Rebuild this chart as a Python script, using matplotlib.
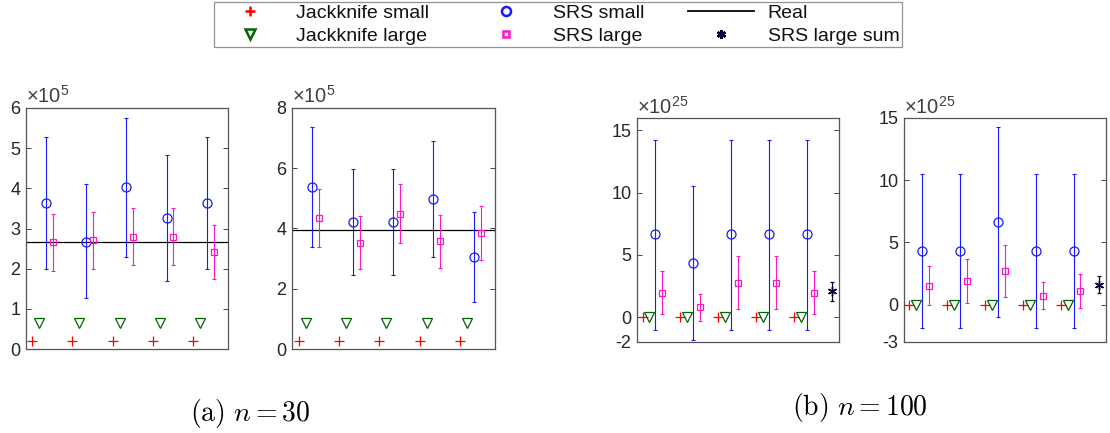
import matplotlib
matplotlib.use("Agg")
import matplotlib.pyplot as plt
import numpy as np

plt.rcParams['font.family'] = ['Liberation Sans', 'DejaVu Sans']
plt.rcParams['mathtext.fontset'] = 'custom'
plt.rcParams['mathtext.rm'] = 'Liberation Sans'
plt.rcParams['mathtext.it'] = 'Liberation Sans:italic'

# ---------------- data (values in units of the axis multiplier) ----------------
groups = [1, 2, 3, 4, 5]

# (a) n = 30, left panel (x 1e5)
a1_jk_small = [0.19, 0.19, 0.19, 0.19, 0.19]
a1_jk_large = [0.65, 0.65, 0.65, 0.65, 0.65]
a1_srs_small = [3.63, 2.67, 4.03, 3.25, 3.63]
a1_srs_small_lo = [1.99, 1.26, 2.29, 1.70, 1.99]
a1_srs_small_hi = [5.28, 4.10, 5.76, 4.82, 5.28]
a1_srs_large = [2.66, 2.71, 2.80, 2.80, 2.42]
a1_srs_large_lo = [1.95, 1.99, 2.09, 2.09, 1.75]
a1_srs_large_hi = [3.35, 3.40, 3.51, 3.51, 3.08]
a1_real = 2.66

# (a) n = 30, right panel (x 1e5)
a2_jk_small = [0.26, 0.26, 0.26, 0.26, 0.26]
a2_jk_large = [0.86, 0.86, 0.86, 0.86, 0.86]
a2_srs_small = [5.38, 4.22, 4.22, 4.99, 3.05]
a2_srs_small_lo = [3.38, 2.44, 2.44, 3.06, 1.56]
a2_srs_small_hi = [7.36, 5.99, 5.99, 6.92, 4.56]
a2_srs_large = [4.35, 3.52, 4.49, 3.59, 3.85]
a2_srs_large_lo = [3.38, 2.65, 3.53, 2.70, 2.95]
a2_srs_large_hi = [5.31, 4.40, 5.49, 4.45, 4.76]
a2_real = 3.94

# (b) n = 100, left panel (x 1e25)
b1_jk_small = [0.0, 0.0, 0.0, 0.0, 0.0]
b1_jk_large = [0.0, 0.0, 0.0, 0.0, 0.0]
b1_srs_small = [6.65, 4.36, 6.65, 6.65, 6.65]
b1_srs_small_lo = [-1.0, -1.86, -1.0, -1.0, -1.0]
b1_srs_small_hi = [14.2, 10.53, 14.27, 14.27, 14.27]
b1_srs_large = [1.97, 0.78, 2.77, 2.77, 1.97]
b1_srs_large_lo = [0.24, -0.35, 0.67, 0.67, 0.24]
b1_srs_large_hi = [3.72, 1.89, 4.90, 4.90, 3.72]
b1_sum = 2.07
b1_sum_lo = 1.27
b1_sum_hi = 2.85

# (b) n = 100, right panel (x 1e25)
b2_jk_small = [0.0, 0.0, 0.0, 0.0, 0.0]
b2_jk_large = [0.0, 0.0, 0.0, 0.0, 0.0]
b2_srs_small = [4.34, 4.34, 6.61, 4.34, 4.34]
b2_srs_small_lo = [-1.89, -1.89, -1.03, -1.89, -1.89]
b2_srs_small_hi = [10.52, 10.52, 14.27, 10.52, 10.52]
b2_srs_large = [1.51, 1.92, 2.70, 0.73, 1.11]
b2_srs_large_lo = [0.0, 0.16, 0.62, -0.35, -0.24]
b2_srs_large_hi = [3.08, 3.67, 4.83, 1.81, 2.45]
b2_sum = 1.62
b2_sum_lo = 0.94
b2_sum_hi = 2.29

labels = ["Jackknife small", "Jackknife large", "SRS small", "SRS large", "Real", "SRS large sum"]

# ---------------- styling ----------------
C_RED = '#ff0000'
C_GREEN = '#006400'
C_BLUE = '#1a1aff'
C_PINK = '#ff14c8'
C_STAR = '#000033'
C_AX = '#262626'
OFF = [-0.255, -0.085, 0.085, 0.255]

W, H = 1110, 433
fig = plt.figure(figsize=(W / 100, H / 100), dpi=100)

def add_ax(l, r, t, b):
    return fig.add_axes([l / W, (H - b) / H, (r - l) / W, (b - t) / H])

def panel(ax, jk_s, jk_l, ss, ss_lo, ss_hi, sl, sl_lo, sl_hi, ylim, yticks, exp,
          xlim, real=None, sm=None):
    g = np.array(groups, dtype=float)
    ss = np.array(ss); sl = np.array(sl)
    h = {}
    ax.errorbar(g + OFF[2], ss, yerr=[ss - np.array(ss_lo), np.array(ss_hi) - ss],
                fmt='none', ecolor=C_BLUE, elinewidth=0.8, capsize=1.3, capthick=0.8, zorder=2)
    ax.errorbar(g + OFF[3], sl, yerr=[sl - np.array(sl_lo), np.array(sl_hi) - sl],
                fmt='none', ecolor=C_PINK, elinewidth=0.8, capsize=1.3, capthick=0.8, zorder=2)
    if real is not None:
        h['Real'], = ax.plot(xlim, [real, real], color='black', lw=0.9, zorder=1)
    h['Jackknife small'], = ax.plot(g + OFF[0], jk_s, ls='none', marker='+', ms=6.8, mew=0.9,
                                    color=C_RED, zorder=3)
    h['Jackknife large'], = ax.plot(g + OFF[1], jk_l, ls='none', marker='v', ms=7, mew=0.9,
                                    mfc='none', mec=C_GREEN, zorder=3)
    h['SRS small'], = ax.plot(g + OFF[2], ss, ls='none', marker='o', ms=6.5, mew=0.9,
                              mfc='none', mec=C_BLUE, zorder=3)
    h['SRS large'], = ax.plot(g + OFF[3], sl, ls='none', marker='s', ms=5, mew=0.9,
                              mfc='none', mec=C_PINK, zorder=3)
    if sm is not None:
        sx = g[-1] + 1 + OFF[0]
        v, lo, hi = sm
        ax.errorbar([sx], [v], yerr=[[v - lo], [hi - v]], fmt='none', ecolor=C_STAR,
                    elinewidth=0.9, capsize=1.5, capthick=0.9, zorder=2)
        h['SRS large sum'], = ax.plot([sx], [v], ls='none', marker=(6, 2, 0), ms=6.5, mew=1.0,
                                      color=C_STAR, zorder=3)
    ax.set_xlim(xlim)
    ax.set_ylim(ylim)
    ax.set_xticks([])
    ax.set_yticks(yticks)
    ax.set_yticklabels([str(t) for t in yticks])
    ax.tick_params(axis='y', direction='in', left=True, right=True, length=3.5, width=0.6,
                   colors=C_AX, labelsize=13, pad=4)
    for s in ax.spines.values():
        s.set_color('#555555')
        s.set_linewidth(0.9)
    ax.text(0.0, 1.02, r'$\times\mathrm{10}^{%d}$' % exp, transform=ax.transAxes,
            fontsize=14.5, color='#404040', ha='left', va='baseline')
    return h

ax1 = add_ax(26, 228, 108, 349)
h1 = panel(ax1, a1_jk_small, a1_jk_large, a1_srs_small, a1_srs_small_lo, a1_srs_small_hi,
           a1_srs_large, a1_srs_large_lo, a1_srs_large_hi, (0, 6), [0, 1, 2, 3, 4, 5, 6], 5,
           (0.59, 5.61), real=a1_real)
ax2 = add_ax(292, 495, 108, 349)
h2 = panel(ax2, a2_jk_small, a2_jk_large, a2_srs_small, a2_srs_small_lo, a2_srs_small_hi,
           a2_srs_large, a2_srs_large_lo, a2_srs_large_hi, (0, 8), [0, 2, 4, 6, 8], 5,
           (0.58, 5.61), real=a2_real)
ax3 = add_ax(637, 839, 118, 342)
h3 = panel(ax3, b1_jk_small, b1_jk_large, b1_srs_small, b1_srs_small_lo, b1_srs_small_hi,
           b1_srs_large, b1_srs_large_lo, b1_srs_large_hi, (-2, 16), [-2, 0, 5, 10, 15], 25,
           (0.60, 5.92), sm=(b1_sum, b1_sum_lo, b1_sum_hi))
ax4 = add_ax(904, 1106, 118, 342)
h4 = panel(ax4, b2_jk_small, b2_jk_large, b2_srs_small, b2_srs_small_lo, b2_srs_small_hi,
           b2_srs_large, b2_srs_large_lo, b2_srs_large_hi, (-3, 15), [-3, 0, 5, 10, 15], 25,
           (0.60, 5.93), sm=(b2_sum, b2_sum_lo, b2_sum_hi))

allh = {}
allh.update(h1); allh.update(h3)
order = ["Jackknife small", "Jackknife large", "SRS small", "SRS large", "Real", "SRS large sum"]
leg = fig.legend([allh[k] for k in order], order, ncol=3, loc='upper center',
                 bbox_to_anchor=(558 / W, 1 - 2 / H), fontsize=14, frameon=True,
                 fancybox=False, edgecolor='#777777', handlelength=3.4, handletextpad=0.7,
                 columnspacing=2.25, labelspacing=0.28, borderpad=0.12, borderaxespad=0,
                 numpoints=1)
leg.get_frame().set_linewidth(0.9)
for t in leg.get_texts():
    t.set_color('#111111')
for lh in leg.legend_handles:
    if lh.get_marker() not in (None, 'None', ''):
        lh.set_markeredgewidth(1.8)
    else:
        lh.set_linewidth(1.3)

fig.text(250 / W, 1 - 413 / H, r'$\mathrm{(a)}\ n=30$', math_fontfamily='cm',
         fontsize=20, ha='center', va='center')
fig.text(860 / W, 1 - 407 / H, r'$\mathrm{(b)}\ n=100$', math_fontfamily='cm',
         fontsize=20, ha='center', va='center')

fig.savefig('out.png', dpi=100)
